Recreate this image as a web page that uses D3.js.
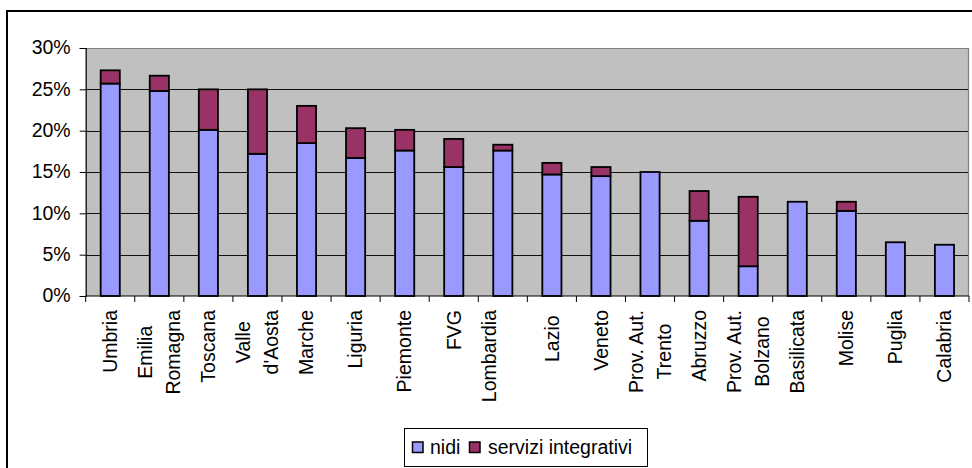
<!DOCTYPE html>
<html>
<head>
<meta charset="utf-8">
<script src="https://cdn.jsdelivr.net/npm/d3@7"></script>
<style>
  html, body { margin: 0; padding: 0; background: #fff; }
  svg { display: block; font-family: "Liberation Sans", Arial, sans-serif; }
</style>
</head>
<body>
<svg id="chart" width="972" height="468"></svg>
<script>
// Regions (line breaks split the axis labels)
const regions = [
  "Umbria", "Emilia\nRomagna", "Toscana", "Valle\nd'Aosta", "Marche", "Liguria",
  "Piemonte", "FVG", "Lombardia\n", "Lazio ", "Veneto", "Prov. Aut.\nTrento",
  "Abruzzo", "Prov. Aut.\nBolzano", "Basilicata", "Molise", "Puglia", "Calabria"
];
// Coverage rates, in percent
const nidi = [25.7, 24.8, 20.1, 17.2, 18.5, 16.7, 17.6, 15.6, 17.6, 14.7, 14.5, 15.0, 9.1, 3.6, 11.4, 10.3, 6.5, 6.2];
const serviziIntegrativi = [1.6, 1.85, 4.9, 7.8, 4.5, 3.6, 2.5, 3.4, 0.7, 1.4, 1.1, 0, 3.6, 8.4, 0, 1.1, 0, 0];
const seriesNames = ["nidi", "servizi integrativi"];
const yTicks = [0, 5, 10, 15, 20, 25, 30];

const colors = ["#9999FF", "#993366"];
const fontSize = 19.5;

const svg = d3.select("#chart");

// Outer chart frame (runs off the right and bottom edges)
svg.append("rect")
  .attr("x", 7).attr("y", 11).attr("width", 1000).attr("height", 500)
  .attr("fill", "#fff").attr("stroke", "#000").attr("stroke-width", 2);

const plot = { left: 85.7, right: 969, top: 48, bottom: 296 };

const x = d3.scaleBand().domain(d3.range(regions.length)).range([plot.left, plot.right]).padding(0);
const y = d3.scaleLinear().domain([0, 30]).range([plot.bottom, plot.top]);

// Plot area background
svg.append("rect")
  .attr("x", plot.left).attr("y", plot.top)
  .attr("width", plot.right - plot.left).attr("height", plot.bottom - plot.top)
  .attr("fill", "#C0C0C0");

// Horizontal gridlines
svg.append("g").selectAll("line")
  .data(yTicks.filter(t => t > 0 && t < 30))
  .join("line")
  .attr("x1", plot.left).attr("x2", plot.right)
  .attr("y1", d => Math.round(y(d)) + 0.5).attr("y2", d => Math.round(y(d)) + 0.5)
  .attr("stroke", "#111").attr("stroke-width", 1);

// Plot area border (top and right)
svg.append("path")
  .attr("d", `M${plot.left},${plot.top + 0.5}H${plot.right - 0.5}V${plot.bottom}`)
  .attr("fill", "none").attr("stroke", "#808080").attr("stroke-width", 1.2);

// Stacked bars
const stackData = regions.map((r, i) => ({ i, nidi: nidi[i], servizi: serviziIntegrativi[i] }));
const stack = d3.stack().keys(["nidi", "servizi"])(stackData);
const barW = x.bandwidth() * 0.39;

stack.forEach((layer, k) => {
  svg.append("g").selectAll("rect")
    .data(layer.filter(d => d[1] - d[0] > 0))
    .join("rect")
    .attr("x", d => x(d.data.i) + (x.bandwidth() - barW) / 2)
    .attr("y", d => y(d[1]))
    .attr("width", barW)
    .attr("height", d => y(d[0]) - y(d[1]))
    .attr("fill", colors[k])
    .attr("stroke", "#000")
    .attr("stroke-width", 1.8);
});

// Y axis
const yAxis = d3.axisLeft(y).tickValues(yTicks).tickFormat(d => d + "%").tickSize(6).tickPadding(9);
const gy = svg.append("g").attr("transform", `translate(${plot.left},0)`).call(yAxis);
gy.select(".domain").attr("stroke", "#000").attr("stroke-width", 1.2);
gy.selectAll(".tick line").attr("stroke", "#000");
gy.selectAll(".tick text")
  .attr("font-size", fontSize).attr("font-family", "Liberation Sans, Arial, sans-serif")
  .attr("fill", "#000").attr("dy", "0.3em");

// X axis: tick marks at category boundaries
const gx = svg.append("g").attr("transform", `translate(0,${plot.bottom})`);
gx.append("line")
  .attr("x1", plot.left).attr("x2", plot.right)
  .attr("stroke", "#000").attr("stroke-width", 1.2);
gx.selectAll("line.tick")
  .data(d3.range(regions.length + 1))
  .join("line").attr("class", "tick")
  .attr("x1", i => i < regions.length ? x(i) : plot.right)
  .attr("x2", i => i < regions.length ? x(i) : plot.right)
  .attr("y1", 0).attr("y2", 6)
  .attr("stroke", "#000");

// Rotated category labels, lines centred on each other, block ending near the axis
const lineStep = 28;
const labelTop = 310;
regions.forEach((name, i) => {
  const lines = name.split("\n");
  const cx = x(i) + x.bandwidth() / 2;
  const g = svg.append("g").attr("transform", `translate(${cx},${labelTop}) rotate(-90)`);
  const texts = lines.map((ln, j) => g.append("text")
    .attr("font-size", fontSize)
    .attr("text-anchor", "middle")
    .style("white-space", "pre")
    .attr("y", (j - (lines.length - 1) / 2) * lineStep + 6.8)
    .text(ln));
  const w = d3.max(texts, t => t.node().getComputedTextLength());
  texts.forEach(t => t.attr("x", -w / 2));
});

// Legend
const legend = svg.append("g");
legend.append("rect")
  .attr("x", 404.5).attr("y", 428.5).attr("width", 243).attr("height", 38)
  .attr("fill", "#fff").attr("stroke", "#000").attr("stroke-width", 1);
const legendItems = [
  { name: seriesNames[0], color: colors[0], sx: 412.5, tx: 430 },
  { name: seriesNames[1], color: colors[1], sx: 469.5, tx: 488 }
];
legendItems.forEach(it => {
  legend.append("rect")
    .attr("x", it.sx).attr("y", 442).attr("width", 10.5).attr("height", 10.5)
    .attr("fill", it.color).attr("stroke", "#000").attr("stroke-width", 1.5);
  legend.append("text")
    .attr("x", it.tx).attr("y", 454)
    .attr("font-size", fontSize)
    .text(it.name);
});
</script>
</body>
</html>
